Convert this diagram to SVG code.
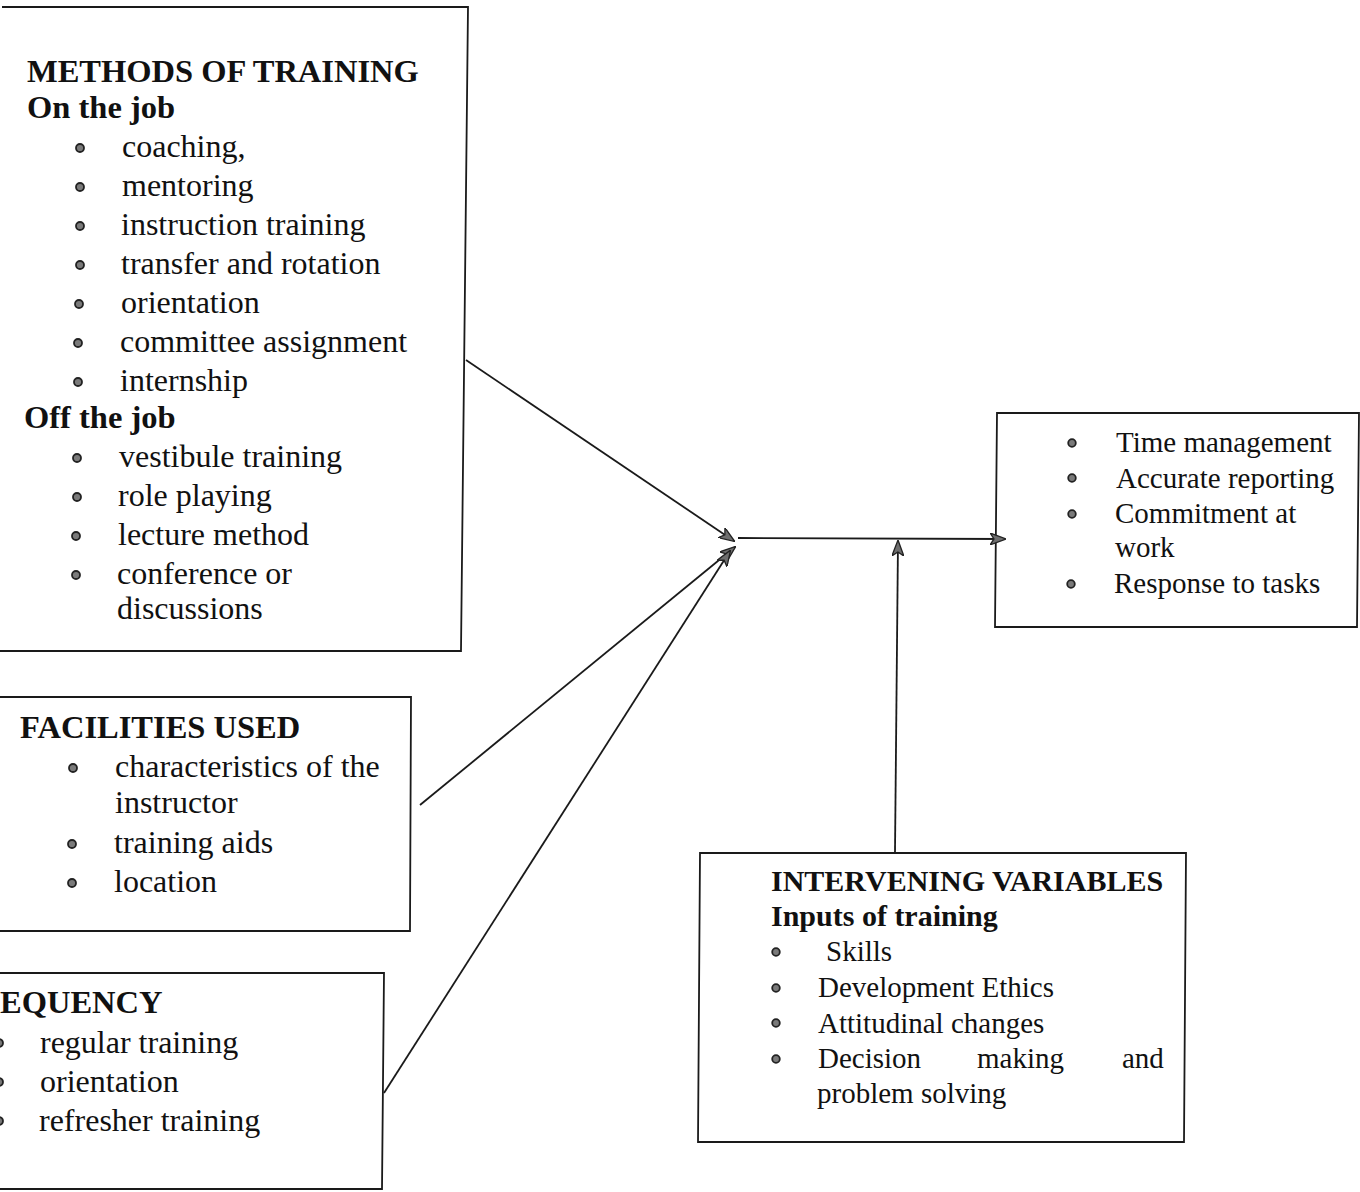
<svg xmlns="http://www.w3.org/2000/svg" width="1360" height="1192" viewBox="0 0 1360 1192">
<defs>
<style>
.box{fill:#fff;stroke:#1a1a1a;stroke-width:1.8}
.t{font-family:"Liberation Serif","Times New Roman",serif;fill:#111}
.L{font-size:32px}
.R{font-size:29px}
.Lb{font-size:32.5px;font-weight:bold}
.Rb{font-size:30px;font-weight:bold}
.dot{fill:#7a7a7a;stroke:#222;stroke-width:1.8}
.con{stroke:#1a1a1a;stroke-width:1.8;fill:none}
</style>
<marker id="ah" viewBox="0 0 16 12" refX="15" refY="6" markerWidth="16" markerHeight="12" markerUnits="userSpaceOnUse" orient="auto">
<path d="M0,0 L16,6 L0,12 L4,6 z" fill="#6e6e6e" stroke="#222" stroke-width="1.3"/>
</marker>
</defs>
<rect width="1360" height="1192" fill="#fff"/>

<g id="methods">
<path class="box" d="M2,7 L468,7 L461,651 L0,651"/>
<text class="t Lb" x="27" y="82">METHODS OF TRAINING</text>
<text class="t Lb" x="27" y="118">On the job</text>
<circle class="dot" cx="80" cy="148" r="4"/><text class="t L" x="122" y="157">coaching,</text>
<circle class="dot" cx="80" cy="187" r="4"/><text class="t L" x="122" y="196">mentoring</text>
<circle class="dot" cx="80" cy="226" r="4"/><text class="t L" x="121" y="235">instruction training</text>
<circle class="dot" cx="80" cy="265" r="4"/><text class="t L" x="121" y="274">transfer and rotation</text>
<circle class="dot" cx="79" cy="304" r="4"/><text class="t L" x="121" y="313">orientation</text>
<circle class="dot" cx="78" cy="343" r="4"/><text class="t L" x="120" y="352">committee assignment</text>
<circle class="dot" cx="78" cy="382" r="4"/><text class="t L" x="120" y="391">internship</text>
<text class="t Lb" x="24" y="428">Off the job</text>
<circle class="dot" cx="77" cy="458" r="4"/><text class="t L" x="119" y="467">vestibule training</text>
<circle class="dot" cx="77" cy="497" r="4"/><text class="t L" x="118" y="506">role playing</text>
<circle class="dot" cx="76" cy="536" r="4"/><text class="t L" x="118" y="545">lecture method</text>
<circle class="dot" cx="76" cy="575" r="4"/><text class="t L" x="117" y="584">conference or</text>
<text class="t L" x="117" y="619">discussions</text>
</g>

<g id="facilities">
<path class="box" d="M0,697 L411,697 L410,931 L0,931"/>
<text class="t Lb" x="20" y="738">FACILITIES USED</text>
<circle class="dot" cx="73" cy="768" r="4"/><text class="t L" x="115" y="777">characteristics of the</text>
<text class="t L" x="115" y="813">instructor</text>
<circle class="dot" cx="72" cy="844" r="4"/><text class="t L" x="114" y="853">training aids</text>
<circle class="dot" cx="72" cy="883" r="4"/><text class="t L" x="114" y="892">location</text>
</g>

<g id="frequency">
<path class="box" d="M0,973 L384,973 L382,1189 L0,1189"/>
<text class="t Lb" x="0" y="1013">EQUENCY</text>
<circle class="dot" cx="-1" cy="1043" r="4"/><text class="t L" x="40" y="1053">regular training</text>
<circle class="dot" cx="-1" cy="1082" r="4"/><text class="t L" x="40" y="1092">orientation</text>
<circle class="dot" cx="-1" cy="1121" r="4"/><text class="t L" x="39" y="1131">refresher training</text>
</g>

<g id="outcomes">
<path class="box" d="M997,413 L1359,413 L1357,627 L995,627 Z"/>
<circle class="dot" cx="1072" cy="443" r="3.8"/><text class="t R" x="1116" y="452">Time management</text>
<circle class="dot" cx="1072" cy="478" r="3.8"/><text class="t R" x="1116" y="488">Accurate reporting</text>
<circle class="dot" cx="1072" cy="514" r="3.8"/><text class="t R" x="1115" y="523">Commitment at</text>
<text class="t R" x="1115" y="557">work</text>
<circle class="dot" cx="1071" cy="584" r="3.8"/><text class="t R" x="1114" y="593">Response to tasks</text>
</g>

<g id="intervening">
<path class="box" d="M700,853 L1186,853 L1184,1142 L698,1142 Z"/>
<text class="t Rb" x="771" y="891">INTERVENING VARIABLES</text>
<text class="t Rb" x="771" y="926">Inputs of training</text>
<circle class="dot" cx="776" cy="952" r="3.8"/><text class="t R" x="826" y="961">Skills</text>
<circle class="dot" cx="776" cy="988" r="3.8"/><text class="t R" x="818" y="997">Development Ethics</text>
<circle class="dot" cx="776" cy="1023" r="3.8"/><text class="t R" x="818" y="1033">Attitudinal changes</text>
<circle class="dot" cx="776" cy="1059" r="3.8"/><text class="t R" y="1068"><tspan x="818">Decision</tspan><tspan x="977">making</tspan><tspan x="1122">and</tspan></text>
<text class="t R" x="817" y="1103">problem solving</text>
</g>

<g id="connectors">
<line class="con" x1="466" y1="360" x2="734" y2="541" marker-end="url(#ah)"/>
<line class="con" x1="420" y1="805" x2="735" y2="547" marker-end="url(#ah)"/>
<line class="con" x1="384" y1="1093" x2="730" y2="551" marker-end="url(#ah)"/>
<line class="con" x1="738" y1="538" x2="1005" y2="539" marker-end="url(#ah)"/>
<line class="con" x1="895" y1="852" x2="898" y2="541" marker-end="url(#ah)"/>
</g>
</svg>
